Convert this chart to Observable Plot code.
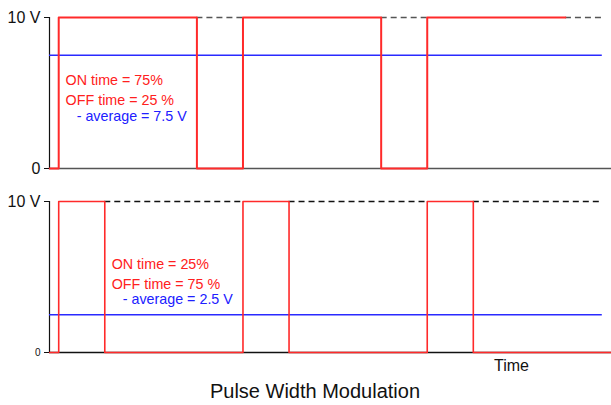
<!DOCTYPE html>
<html>
<head>
<meta charset="utf-8">
<script src="https://cdn.jsdelivr.net/npm/d3@7"></script>
<script src="https://cdn.jsdelivr.net/npm/@observablehq/plot@0.6"></script>
<style>
  html, body { margin: 0; padding: 0; background: #fff; }
  #wrap { position: relative; width: 611px; height: 405px; font-family: "Liberation Sans", Arial, sans-serif; }
  #top, #bottom { position: absolute; left: 0; }
  #top { top: 0; }
  #bottom { top: 184px; }
  #timeLabel { position: absolute; left: 494px; top: 357px; font-size: 16px; color: #111; }
  #title { position: absolute; left: 0; width: 630px; text-align: center; top: 380px; font-size: 20px; color: #111; }
</style>
</head>
<body>
<div id="wrap">
  <div id="top"></div>
  <div id="bottom"></div>
  <div id="timeLabel">Time</div>
  <div id="title">Pulse Width Modulation</div>
</div>
<script>
// Time units: one PWM period = 4 units
const xDomain = [0, 12.2];
const yDomain = [0, 10];
const averageEnd = 12.0;

// Top panel: 75% duty cycle
const topTimes  = [0, 0.2, 3.2, 4.2, 7.2, 8.2, 11.2];
const topValues = [0, 10, 0, 10, 0, 10, 10];
const topDashStart = [3.2, 7.2, 11.2];
const topDashEnd   = [4.2, 8.2, 12.0];
const topAverage = 7.5;
const topLabels = ["ON time = 75%", "OFF time = 25 %", "- average = 7.5 V"];
const topLabelX = [0.35, 0.35, 0.59];
const topLabelY = [5.80, 4.52, 3.45];

// Bottom panel: 25% duty cycle
const botTimes  = [0, 0.2, 1.2, 4.2, 5.2, 8.2, 9.2, 12.2];
const botValues = [0, 10, 0, 10, 0, 10, 0, 0];
const botDashStart = [1.2, 5.2, 9.2];
const botDashEnd   = [4.2, 8.2, 12.0];
const botAverage = 2.5;
const botLabels = ["ON time = 25%", "OFF time = 75 %", "- average = 2.5 V"];
const botLabelX = [1.35, 1.35, 1.59];
const botLabelY = [5.83, 4.50, 3.49];

const labelColors = ["#ff2020", "#ff2020", "#2020ff"];

function panel(times, values, dashStart, dashEnd, avg, labels, lx, ly, opts) {
  const signal = times.map((t, i) => ({t, v: values[i]}));
  const dashes = dashStart.map((s, i) => ({x1: s, x2: dashEnd[i]}));
  const ann = labels.map((s, i) => ({s, x: lx[i], y: ly[i], c: labelColors[i]}));
  return Plot.plot({
    width: 611,
    height: 185,
    marginLeft: 49,
    marginRight: 0,
    marginTop: 17,
    marginBottom: 17,
    style: {fontFamily: "Liberation Sans, Arial, sans-serif", background: "#fff", overflow: "visible"},
    x: {domain: xDomain, axis: null},
    y: {domain: yDomain, axis: null},
    marks: [
      Plot.ruleY([0], {x1: xDomain[0], x2: xDomain[1], stroke: opts.baseColor, strokeWidth: 1.5}),
      Plot.ruleX([0], {y1: 0, y2: 10, stroke: "#111", strokeWidth: 1.2}),
      Plot.ruleY(dashes, {y: () => 10, x1: "x1", x2: "x2", stroke: opts.dashColor, strokeWidth: 1.3, strokeDasharray: "6,4"}),
      Plot.ruleY([avg], {x1: 0, x2: averageEnd, stroke: "#2a2aff", strokeWidth: 1.5}),
      Plot.line(signal, {x: "t", y: "v", curve: "step-after", stroke: "#ff2a2a", strokeWidth: opts.redWidth}),
      Plot.axisY({ticks: [10], tickFormat: () => "10 V", tickSize: 5, fontSize: 16, tickPadding: 4, anchor: "left", stroke: "#111", fill: "#111"}),
      Plot.axisY({ticks: [0], tickFormat: () => "0", tickSize: 5, fontSize: opts.zeroSize, tickPadding: 4, anchor: "left", stroke: "#111", fill: "#111"}),
      Plot.text(ann, {x: "x", y: "y", text: "s", fill: "c", fontSize: 14.3, textAnchor: "start"})
    ]
  });
}

document.getElementById("top").append(
  panel(topTimes, topValues, topDashStart, topDashEnd, topAverage, topLabels, topLabelX, topLabelY,
        {baseColor: "#555", dashColor: "#555", redWidth: 2, zeroSize: 16})
);
document.getElementById("bottom").append(
  panel(botTimes, botValues, botDashStart, botDashEnd, botAverage, botLabels, botLabelX, botLabelY,
        {baseColor: "#111", dashColor: "#111", redWidth: 1.6, zeroSize: 10})
);
</script>
</body>
</html>
